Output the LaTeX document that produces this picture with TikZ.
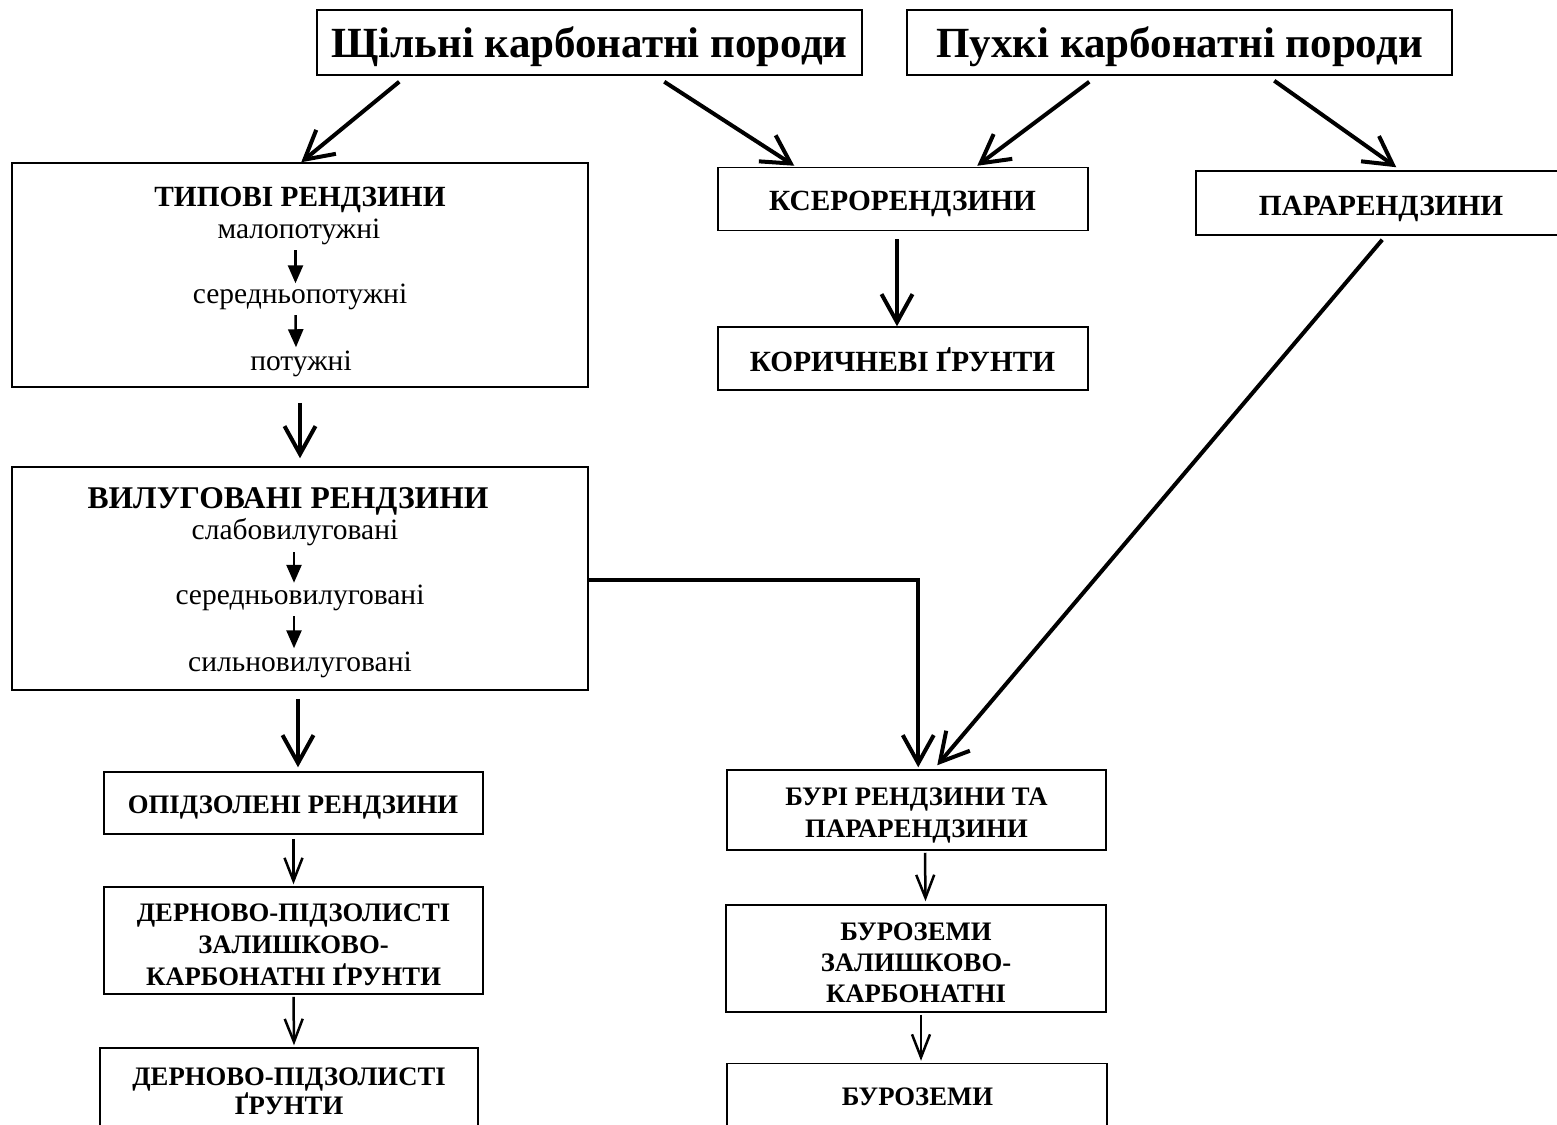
\documentclass[tikz,border=0pt]{standalone}
\usepackage{fontspec}
\setmainfont{Liberation Serif}
\usetikzlibrary{arrows.meta,calc}
\tikzset{
  box/.style={draw, line width=1.5pt, rectangle, inner sep=0pt},
  lbl/.style={anchor=base, inner sep=0pt},
  titletext/.style={lbl, font=\fontsize{43}{50}\selectfont\bfseries},
  headtext/.style={lbl, font=\fontsize{29.3}{34}\selectfont\bfseries},
  subtext/.style={lbl, font=\fontsize{29.5}{34}\selectfont},
  midtext/.style={lbl, font=\fontsize{29.3}{34}\selectfont\bfseries},
  smalltext/.style={lbl, font=\fontsize{26.7}{32}\selectfont\bfseries},
  bigarrow/.style={line width=4pt, -{Straight Barb[length=28pt,width=31pt,line width=4pt]}},
  thinarrow/.style={line width=2.5pt, -{Straight Barb[length=23pt,width=18pt,line width=2.5pt]}},
  innerarrow/.style={line width=2.5pt, -{Triangle[length=18pt,width=15pt]}},
}
\begin{document}
\begin{tikzpicture}[x=1pt,y=-1pt]
\useasboundingbox (0,0) rectangle (1557,1124);
\clip (0,0) rectangle (1557,1124);
\fill[white] (0,0) rectangle (1557,1124);

% top boxes
\node[box, minimum width=545pt, minimum height=65pt] (t1) at (589.5,42.5) {};
\node[titletext] (t1t) at (589.5,57) {Щільні карбонатні породи};
\node[box, minimum width=545pt, minimum height=65pt] (t2) at (1179.5,42.5) {};
\node[titletext] (t2t) at (1179.5,57) {Пухкі карбонатні породи};

% typical rendzinas
\node[box, minimum width=576pt, minimum height=224pt] (tip) at (300,275) {};
\node[headtext] (tiph) at (300,206.7) {ТИПОВІ РЕНДЗИНИ};
\node[subtext] (tip1) at (299,238.5) {малопотужні};
\node[subtext] (tip2) at (300,303.5) {середньопотужні};
\node[subtext] (tip3) at (301,370) {потужні};

% xero / para / brown
\node[box, minimum width=370pt, minimum height=63pt] (ksero) at (903,199) {};
\node[midtext] (kserot) at (902.5,210) {КСЕРОРЕНДЗИНИ};
\node[box, minimum width=384pt, minimum height=64pt] (para) at (1388,203) {};
\node[midtext] (parat) at (1381,215) {ПАРАРЕНДЗИНИ};
\node[box, minimum width=370pt, minimum height=63pt] (kor) at (903,358.5) {};
\node[midtext] (kort) at (902.5,371.5) {КОРИЧНЕВІ ҐРУНТИ};

% leached rendzinas
\node[box, minimum width=576pt, minimum height=223pt] (vil) at (300,578.5) {};
\node[headtext, font=\fontsize{31.6}{36}\selectfont\bfseries] (vilh) at (288,508.5) {ВИЛУГОВАНІ РЕНДЗИНИ};
\node[subtext] (vil1) at (295,539.5) {слабовилуговані};
\node[subtext] (vil2) at (300,604.5) {середньовилуговані};
\node[subtext] (vil3) at (300,671) {сильновилуговані};

% left column bottom
\node[box, minimum width=379pt, minimum height=62pt] (opid) at (293.5,803) {};
\node[smalltext] (opidt) at (293,813.3) {ОПІДЗОЛЕНІ РЕНДЗИНИ};
\node[box, minimum width=379pt, minimum height=107pt] (dern1) at (293.5,940.5) {};
\node[smalltext] (dern1a) at (293.5,921) {ДЕРНОВО-ПІДЗОЛИСТІ};
\node[smalltext] (dern1b) at (293.5,953) {ЗАЛИШКОВО-};
\node[smalltext] (dern1c) at (293.5,985) {КАРБОНАТНІ ҐРУНТИ};
\node[box, minimum width=378pt, minimum height=100pt] (dern2) at (289,1098) {};
\node[smalltext] (dern2a) at (289,1085) {ДЕРНОВО-ПІДЗОЛИСТІ};
\node[smalltext] (dern2b) at (289,1114) {ҐРУНТИ};

% right column bottom
\node[box, minimum width=379pt, minimum height=80pt] (buri) at (916.5,810) {};
\node[smalltext] (buria) at (916.5,805) {БУРІ РЕНДЗИНИ ТА};
\node[smalltext] (burib) at (916.5,837.5) {ПАРАРЕНДЗИНИ};
\node[box, minimum width=380pt, minimum height=107pt] (buroz1) at (916,958.5) {};
\node[smalltext] (buroz1a) at (916,940) {БУРОЗЕМИ};
\node[smalltext] (buroz1b) at (916,971) {ЗАЛИШКОВО-};
\node[smalltext] (buroz1c) at (916,1002) {КАРБОНАТНІ};
\node[box, minimum width=380pt, minimum height=100pt] (buroz2) at (917,1113.5) {};
\node[smalltext] (buroz2t) at (917.5,1105) {БУРОЗЕМИ};

% inner arrows
\draw[innerarrow] ([shift={(-3.5,5)}]tip1.south) -- ([shift={(-4.5,-0.5)}]tip2.north);
\draw[innerarrow] ([shift={(-4.5,5)}]tip2.south) -- ([shift={(-5,-3)}]tip3.north);
\draw[innerarrow] ([shift={(-1,6)}]vil1.south) -- ([shift={(-6,-2)}]vil2.north);
\draw[innerarrow] ([shift={(-6,5)}]vil2.south) -- ([shift={(-6,-3)}]vil3.north);

% arrows from top boxes
\draw[bigarrow] ([shift={(83,6)}]t1.south west) -- ([shift={(290,0)}]tip.north west);
\draw[bigarrow] ([shift={(348,6)}]t1.south west) -- ([shift={(77,-1)}]ksero.north west);
\draw[bigarrow] ([shift={(183,6)}]t2.south west) -- ([shift={(260,-1)}]ksero.north west);
\draw[bigarrow] ([shift={(368,5)}]t2.south west) -- ([shift={(201,-3)}]para.north west);

% vertical arrows
\draw[bigarrow] ([shift={(0,15)}]tip.south) -- ([shift={(0,-8)}]vil.north);
\draw[bigarrow] ([shift={(-6,8)}]ksero.south) -- ([shift={(-6,0)}]kor.north);
\draw[bigarrow] ([shift={(-2,8)}]vil.south) -- ([shift={(4.5,-4)}]opid.north);
\draw[thinarrow] ([shift={(0,4)}]opid.south) -- ([shift={(0,-2)}]dern1.north);
\draw[thinarrow] ([shift={(0,2)}]dern1.south) -- ([shift={(5,-2)}]dern2.north);
\draw[thinarrow] ([shift={(8.5,2)}]buri.south) -- ([shift={(9.5,-3)}]buroz1.north);
\draw[thinarrow] ([shift={(5,2)}]buroz1.south) -- ([shift={(4,-2)}]buroz2.north);

% elbow and diagonal into buri
\draw[bigarrow] ([shift={(0,1.5)}]vil.east) -| ([shift={(192,-2)}]buri.north west);
\draw[bigarrow] ([shift={(187,4)}]para.south west) -- ([shift={(211,-4)}]buri.north west);
\end{tikzpicture}
\end{document}
